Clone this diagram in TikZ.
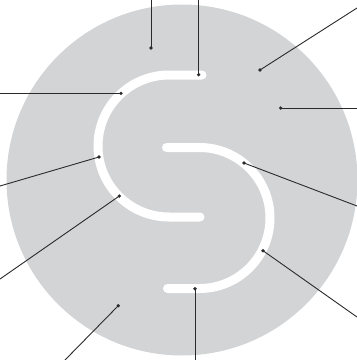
\documentclass[tikz,border=0pt]{standalone}
\definecolor{disc}{HTML}{D3D4D6}
\definecolor{lead}{HTML}{2A2A2A}
\tikzset{
  dotpt/.style={circle, fill=lead, inner sep=0pt, minimum size=3.6pt},
  leader/.style={draw=lead, line width=0.9pt},
  stroke/.style={draw=white, line width=9pt, line cap=round}
}
\begin{document}
\begin{tikzpicture}[x=1pt,y=-1pt]
\useasboundingbox (0,0) rectangle (357,360);
\fill[disc] (182,180) circle[radius=175.5pt];
% S strokes
\draw[stroke] (202,75) -- (169,75) arc[start angle=270, end angle=90, radius=71] -- (200,217);
\draw[stroke] (166.5,147.5) -- (199.5,147.5) arc[start angle=-90, end angle=90, radius=70.5] -- (167.5,288.5);
% dots
\node[dotpt] (d1) at (151,48) {};
\node[dotpt] (d2) at (198.7,74.7) {};
\node[dotpt] (d3) at (260,70) {};
\node[dotpt] (d4) at (280.7,108) {};
\node[dotpt] (d5) at (121,93.3) {};
\node[dotpt] (d6) at (99,157) {};
\node[dotpt] (d7) at (119.3,196) {};
\node[dotpt] (d8) at (244,163) {};
\node[dotpt] (d9) at (263,250.7) {};
\node[dotpt] (d10) at (118.3,305.7) {};
\node[dotpt] (d11) at (195,288.7) {};
% free ends
\coordinate (e1) at (151,0);
\coordinate (e2) at (198.7,0);
\coordinate (e3) at (357,8);
\coordinate (e4) at (357,108);
\coordinate (e5) at (0,93.3);
\coordinate (e6) at (0,186);
\coordinate (e7) at (0,279);
\coordinate (e8) at (357,206);
\coordinate (e9) at (357,317);
\coordinate (e10) at (65,360);
\coordinate (e11) at (195,360);
\foreach \i in {1,...,11} { \draw[leader] (d\i.center) -- (e\i); }
\end{tikzpicture}
\end{document}
